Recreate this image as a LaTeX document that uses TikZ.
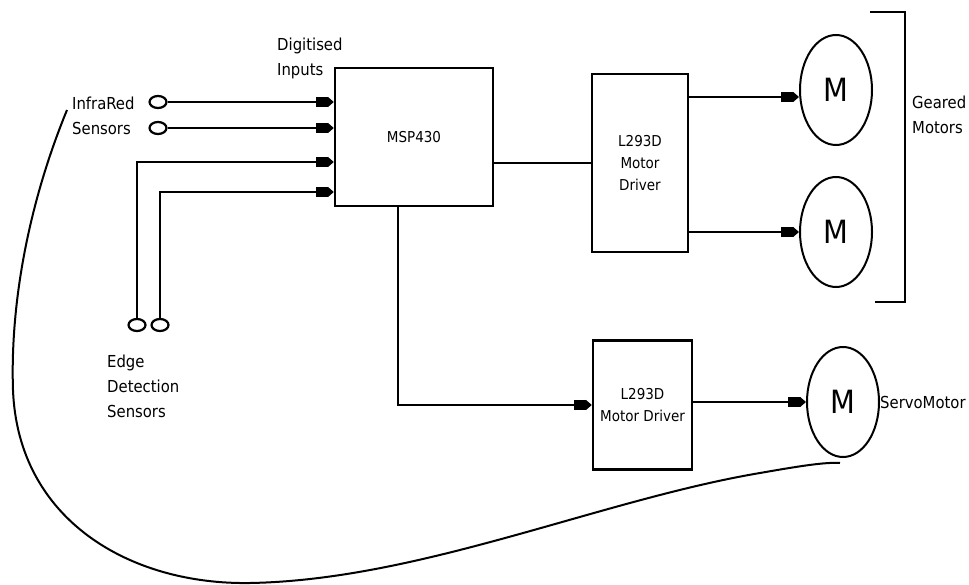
\documentclass[tikz,border=0pt]{standalone}
\usepackage{fontspec}
\setmainfont{DejaVu Sans Condensed}
\usetikzlibrary{arrows.meta,shapes.geometric}
\tikzset{
  wire/.style={line width=2pt},
  plug/.style={wire,-{Rectangle[length=12pt,width=10pt]Triangle[length=6pt,width=10pt]}},
  blk/.style={draw,line width=2.4pt,inner sep=0pt,align=center,font=\fontsize{15}{22}\selectfont},
  motor/.style={draw,ellipse,line width=2pt,minimum width=72pt,minimum height=110pt,inner sep=0pt,font=\fontsize{32}{32}\selectfont},
  sens/.style={draw,ellipse,line width=2.2pt,minimum width=17pt,minimum height=12pt,inner sep=0pt},
  lbl/.style={align=left,inner sep=0pt,font=\fontsize{16.5}{25}\selectfont}
}
\begin{document}
\begin{tikzpicture}[x=1pt,y=-1pt]
\useasboundingbox (0,0) rectangle (969,585);
% blocks
\node[blk,minimum width=158pt,minimum height=138pt] (msp) at (414,137) {MSP430};
\node[blk,minimum width=96pt,minimum height=178pt] (drv1) at (640,163) {L293D\\Motor\\Driver};
\node[blk,minimum width=99pt,minimum height=129pt] (drv2) at (642.5,405) {L293D\\Motor Driver};
% motors
\node[motor] (m1) at (836,90) {M};
\node[motor] (m2) at (836,232) {M};
\node[motor] (m3) at (843,402) {M};
% sensors
\node[sens] (ir1) at (158,102) {};
\node[sens] (ir2) at (158,128) {};
\node[sens] (ed1) at (137,325) {};
\node[sens] (ed2) at (160,325) {};
% labels
\node[lbl,anchor=west] (irl) at (72,116) {InfraRed\\Sensors};
\node[lbl,anchor=west] (dil) at (277,58) {Digitised\\Inputs};
\node[lbl,anchor=north west] (edl) at (107,355) {Edge\\Detection\\Sensors};
\node[lbl,anchor=west] (gml) at (912,115) {Geared\\Motors};
\node[lbl,anchor=west] (svl) at (880,402) {ServoMotor};
% inputs
\draw[plug] (ir1.east) -- (ir1.east -| msp.west);
\draw[plug] (ir2.east) -- (ir2.east -| msp.west);
\coordinate (in3) at (msp.west |- 0,162);
\coordinate (in4) at (msp.west |- 0,192);
\draw[plug] (ed1.north) |- (in3);
\draw[plug] (ed2.north) |- (in4);
% MSP to drivers
\draw[wire] (msp.east |- drv1.west) -- (drv1.west);
\coordinate (mspb) at (398,0);
\draw[plug] (mspb |- msp.south) |- (drv2.west);
% drivers to motors
\coordinate (o1) at (drv1.east |- 0,97);
\coordinate (o2) at (drv1.east |- 0,232);
\draw[plug] (o1) -- (o1 -| m1.west);
\draw[plug] (o2) -- (o2 -| m2.west);
\draw[plug] (drv2.east |- m3.west) -- (m3.west);
% bracket
\coordinate (bt) at (870,12);
\coordinate (bb) at (875,302);
\draw[line width=2.4pt] (bt) -- (905,12) -- (905,302) -- (bb);
% big curve
\coordinate (cs) at (67,110);
\coordinate (ce) at (840,463);
\draw[line width=2pt] (cs) .. controls (30,200) and (10,300) .. (13,390)
  .. controls (18,520) and (130,585) .. (250,583)
  .. controls (420,580) and (600,500) .. (760,473)
  .. controls (800,466) and (825,462) .. (ce);
\end{tikzpicture}
\end{document}
